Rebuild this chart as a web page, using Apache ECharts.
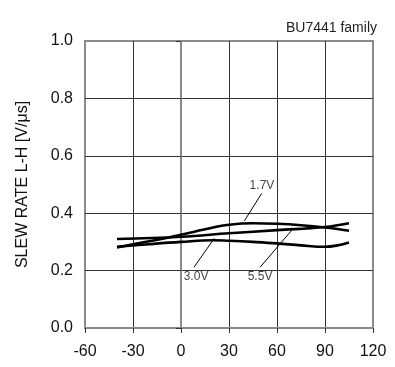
<!DOCTYPE html>
<html><head><meta charset="utf-8">
<script src="https://cdn.jsdelivr.net/npm/echarts@6/dist/echarts.min.js"></script>
<style>html,body{margin:0;padding:0;background:#fff}#c{width:395px;height:367px}</style>
</head><body><div id="c"></div>
<script>
const xTicks = [-60, -30, 0, 30, 60, 90, 120];
const yTicks = [0, 0.2, 0.4, 0.6, 0.8, 1.0];
const temp17 = [-40, -30, -13, 0, 20, 30, 45, 60, 75, 90, 105];
const rate17 = [0.281, 0.292, 0.309, 0.325, 0.350, 0.360, 0.365, 0.363, 0.358, 0.350, 0.339];
const temp30 = [-40, -20, 0, 20, 30, 45, 60, 75, 90, 97, 105];
const rate30 = [0.283, 0.292, 0.300, 0.306, 0.304, 0.300, 0.295, 0.288, 0.283, 0.287, 0.298];
const temp55 = [-40, 0, 30, 60, 90, 105];
const rate55 = [0.310, 0.318, 0.330, 0.341, 0.352, 0.365];
const labelNames = ['1.7V', '3.0V', '5.5V'];
const labelPos = [[50.6, 0.495], [9.4, 0.178], [49.4, 0.178]];
const leaders = [[[50.4, 0.469], [39.6, 0.373]], [[20.8, 0.3125], [8.1, 0.2115]], [[70.2, 0.347], [49.4, 0.2115]]];
const title = 'BU7441 family';
const yName = 'SLEW RATE L-H [V/μs]';

const zip = (a, b) => a.map((v, i) => [v, b[i]]);
const font = 'Liberation Sans, Arial, sans-serif';
const curve = (name, t, r) => ({
  name, type: 'line', smooth: 0.4, showSymbol: false, data: zip(t, r),
  lineStyle: { color: '#000', width: 2.6 }, z: 3
});
const chart = echarts.init(document.getElementById('c'));
chart.setOption({
  animation: false,
  title: { text: title, right: 18, top: 21, padding: 0, textStyle: { fontFamily: font, fontSize: 14, fontWeight: 'normal', color: '#222' } },
  grid: { left: 85, right: 22, top: 41, bottom: 39, show: true, borderColor: '#8a8a8a', borderWidth: 2 },
  xAxis: {
    type: 'value', min: -60, max: 120, interval: 30,
    axisLine: { lineStyle: { color: '#8a8a8a', width: 2 } },
    axisTick: { show: true, inside: false, length: 5, lineStyle: { color: '#333' } },
    axisLabel: { margin: 16, fontFamily: font, fontSize: 16, color: '#111',
      customValues: xTicks },
    splitLine: { show: true, showMinLine: false, showMaxLine: false, lineStyle: { color: '#333', width: 1 } }
  },
  yAxis: {
    type: 'value', min: 0, max: 1.0, interval: 0.2,
    name: yName, nameLocation: 'middle', nameGap: 54, nameRotate: 90,
    nameTextStyle: { fontFamily: font, fontSize: 16, color: '#111' },
    axisLine: { show: true, lineStyle: { color: '#8a8a8a', width: 2 } },
    axisTick: { show: true, inside: false, length: 5, lineStyle: { color: '#333' } },
    axisLabel: { margin: 12, fontFamily: font, fontSize: 16, color: '#111', formatter: v => v.toFixed(1) },
    splitLine: { show: true, showMinLine: false, showMaxLine: false, lineStyle: { color: '#333', width: 1 } }
  },
  series: [
    curve('1.7V', temp17, rate17),
    curve('3.0V', temp30, rate30),
    curve('5.5V', temp55, rate55),
    {
      type: 'line', data: [], silent: true,
      markLine: {
        symbol: ['none', 'none'], silent: true, label: { show: false },
        lineStyle: { color: '#000', width: 1, type: 'solid' },
        data: leaders.map(l => [{ coord: l[0] }, { coord: l[1] }])
      }
    },
    {
      type: 'scatter', symbolSize: 0, silent: true,
      data: labelPos.map((p, i) => ({ value: p, name: labelNames[i] })),
      label: { show: true, position: 'inside', formatter: '{b}', fontFamily: font, fontSize: 12, color: '#111' }
    }
  ]
});
</script></body></html>
